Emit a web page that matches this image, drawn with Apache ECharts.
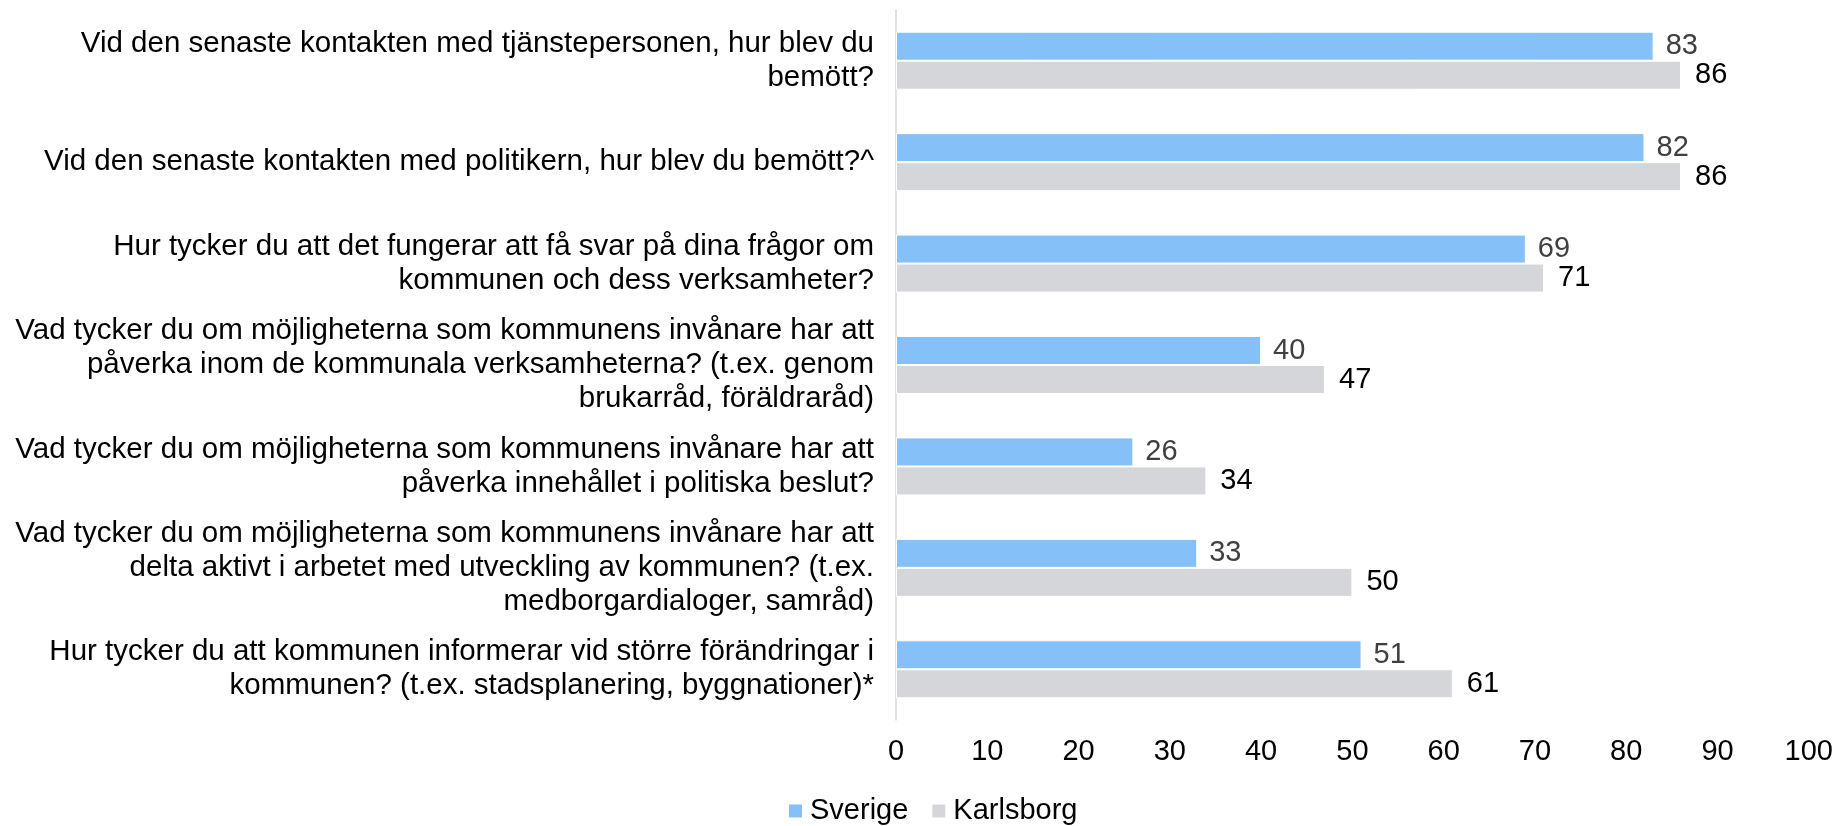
<!DOCTYPE html>
<html>
<head>
<meta charset="utf-8">
<script src="https://cdn.jsdelivr.net/npm/echarts@6/dist/echarts.min.js"></script>
<style>
  html, body { margin: 0; padding: 0; background: #fff; }
  #chart { width: 1836px; height: 826px; }
</style>
</head>
<body>
<div id="chart"></div>
<script>
// frågor (uppifrån och ned)
var fragor = [
    'Vid den senaste kontakten med tjänstepersonen, hur blev du\nbemött?',
    'Vid den senaste kontakten med politikern, hur blev du bemött?^',
    'Hur tycker du att det fungerar att få svar på dina frågor om\nkommunen och dess verksamheter?',
    'Vad tycker du om möjligheterna som kommunens invånare har att\npåverka inom de kommunala verksamheterna? (t.ex. genom\nbrukarråd, föräldraråd)',
    'Vad tycker du om möjligheterna som kommunens invånare har att\npåverka innehållet i politiska beslut?',
    'Vad tycker du om möjligheterna som kommunens invånare har att\ndelta aktivt i arbetet med utveckling av kommunen? (t.ex.\nmedborgardialoger, samråd)',
    'Hur tycker du att kommunen informerar vid större förändringar i\nkommunen? (t.ex. stadsplanering, byggnationer)*'
];
var sverige = [83, 82, 69, 40, 26, 33, 51];
var karlsborg = [86, 86, 71, 47, 34, 50, 61];

var font = '"Liberation Sans", Arial, sans-serif';
var myChart = echarts.init(document.getElementById('chart'));

var option = {
    animation: false,
    textStyle: { fontFamily: font },
    grid: {
        left: 896,
        right: 25,
        top: 10,
        bottom: 106,
        containLabel: false
    },
    legend: {
        top: 796,
        left: 787,
        padding: 0,
        itemWidth: 15,
        itemHeight: 15,
        itemGap: 22,
        icon: 'rect',
        textStyle: { fontSize: 29, lineHeight: 30, color: '#000', fontFamily: font, padding: [0, 0, 0, 2] },
        data: ['Sverige', 'Karlsborg']
    },
    xAxis: {
        type: 'value',
        min: 0,
        max: 100,
        interval: 10,
        axisLine: { show: false },
        axisTick: { show: false },
        splitLine: { show: false },
        axisLabel: { fontSize: 29, color: '#000', margin: 17, fontFamily: font }
    },
    yAxis: {
        type: 'category',
        inverse: true,
        data: fragor,
        axisLine: { show: true, lineStyle: { color: '#d9d9d9', width: 1.5 } },
        axisTick: { show: false },
        axisLabel: {
            fontSize: 29.5,
            lineHeight: 34,
            color: '#000',
            margin: 22,
            align: 'right',
            fontFamily: font
        }
    },
    series: [
        {
            name: 'Sverige',
            type: 'bar',
            data: sverige,
            barWidth: 29,
            barGap: '0%',
            itemStyle: { color: '#85c0f9', borderColor: '#fff', borderWidth: 1 },
            label: {
                show: true,
                position: 'right',
                distance: 12,
                fontSize: 29,
                color: '#404040',
                fontFamily: font
            }
        },
        {
            name: 'Karlsborg',
            type: 'bar',
            data: karlsborg,
            barWidth: 29,
            barGap: '0%',
            itemStyle: { color: '#d5d6da', borderColor: '#fff', borderWidth: 1 },
            label: {
                show: true,
                position: 'right',
                distance: 14,
                fontSize: 29,
                color: '#000',
                fontFamily: font
            }
        }
    ]
};
myChart.setOption(option);
</script>
</body>
</html>
